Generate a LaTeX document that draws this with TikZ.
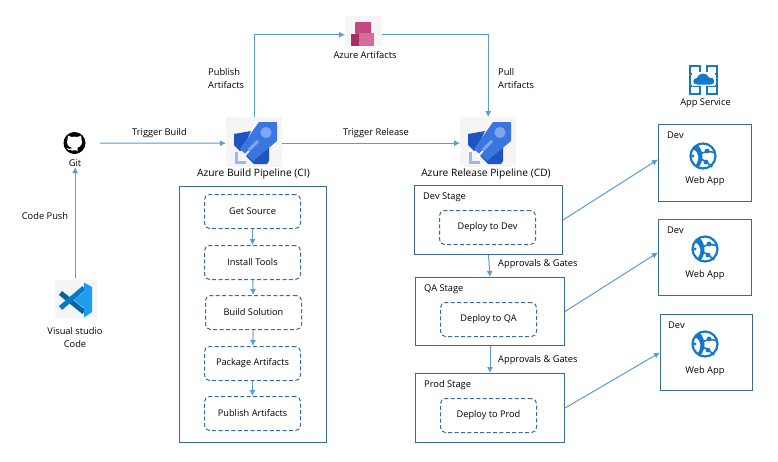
\documentclass[tikz,border=0pt]{standalone}
\usepackage{fontspec}
\setmainfont{Open Sans}
\usetikzlibrary{arrows.meta}
\definecolor{boxblue}{HTML}{3A6A9A}
\definecolor{linkblue}{HTML}{5B9BD5}
\definecolor{iconbg}{HTML}{F5F5F5}
\definecolor{rocketdark}{HTML}{1F55C0}
\definecolor{rocketmid}{HTML}{3B76E0}
\definecolor{rocketlight}{HTML}{7FA6EC}
\definecolor{rocketpale}{HTML}{9DB8EE}
\definecolor{artA}{HTML}{C2487F}
\definecolor{artB}{HTML}{A52F63}
\definecolor{artC}{HTML}{D66C9C}
\definecolor{vsdark}{HTML}{0065A9}
\definecolor{vsmid}{HTML}{007ACC}
\definecolor{vslight}{HTML}{1F9CF0}
\definecolor{appblue}{HTML}{1578C8}
\tikzset{
  lbl/.style={font=\fontsize{9.3}{13}\selectfont,text=black,inner sep=0pt,align=center},
  biglbl/.style={font=\fontsize{10.2}{13}\selectfont,text=black,inner sep=0pt,align=center},
  lblleft/.style={lbl,align=left,anchor=west},
  outerbox/.style={draw=boxblue,line width=1pt,fill=white,inner sep=0pt,anchor=north west},
  stepbox/.style={draw=boxblue,line width=1pt,dash pattern=on 4pt off 2.4pt,rounded corners=5pt,inner sep=0pt,
     minimum width=96pt,minimum height=34pt,font=\fontsize{9.2}{10}\selectfont},
  blank/.style={inner sep=0pt},
  link/.style={draw=linkblue,line width=1pt,-{Latex[length=6pt,width=6pt]}},
  rocket/.pic={
    \fill[iconbg] (0,0) rectangle (56,50);
    \fill[rocketdark] (8,17) -- (25,14) -- (16,33) -- (14,34) -- (8,28) -- cycle;
    \fill[rocketdark] (43,26) -- (43,44) -- (41,47) -- (28,47) -- (20,39) -- cycle;
    \fill[rocketmid] (33,5) -- (50,5) -- (51,6) -- (51,24) -- (27,44) -- (14,32) -- cycle;
    \fill[rocketlight] (40,15.5) circle (5.6);
    \draw[rocketlight,line width=3pt] (32,24) -- (23,33);
    \draw[white,line width=1.6pt] (17,40) -- (23,34);
    \draw[rocketpale,line width=3pt] (10,35) -- (10,45) -- (19.5,45);
  },
  artifact/.pic={
    \fill[iconbg] (0,0) rectangle (37,30);
    \fill[artA,rounded corners=1pt] (10,6) rectangle (26,18);
    \fill[artB] (6,18) rectangle (14,30);
    \fill[artC] (14,17) rectangle (29,30);
  },
  vscode/.pic={
    \fill[iconbg] (0,0) rectangle (42,38);
    \draw[vsdark,line width=5pt] (5.5,13) -- (29,32);
    \draw[vsmid,line width=5pt] (5.5,28) -- (29,8);
    \fill[vslight,even odd rule] (29,2.5) -- (37,7) -- (37,32) -- (29,37.5) -- cycle (29,12) -- (29,28) -- (19,20) -- cycle;
  },
  webapp/.pic={
    \draw[appblue,line width=2.2pt] (0,0) circle (12.5);
    \fill[appblue] (-10,-7) .. controls (-3,-3) and (-3,4) .. (-8,10) -- (-5,12) .. controls (1,5) and (1,-4) .. (-5,-11) -- cycle;
    \draw[appblue,line width=1.6pt] (-3,-2) .. controls (3,-5) and (8,-5) .. (12,-3);
    \draw[appblue,line width=1.6pt] (-2,3) .. controls (3,5) and (7,9) .. (9,11);
    \fill[appblue] (4,-5) circle (2.4) (3,6) circle (2.4) (-10,0) circle (1.6);
  },
  appservice/.pic={
    \draw[appblue,line width=1.6pt] (1,1) -- (11,1) -- (11,9) -- (9,9) -- (9,21) -- (11,21) -- (11,29) -- (1,29) -- cycle;
    \draw[appblue,line width=1.6pt] (28,1) -- (18,1) -- (18,9) -- (20,9) -- (20,21) -- (18,21) -- (18,29) -- (28,29) -- cycle;
    \draw[appblue,line width=1.6pt] (9,9) -- (1,9) (9,21) -- (1,21) (20,9) -- (28,9) (20,21) -- (28,21);
    \fill[white] (3,7) rectangle (26,21);
    \fill[appblue] (8,19.5) .. controls (3,19.5) and (3,13) .. (8,13) .. controls (9,7.5) and (18,7) .. (20,12.5) .. controls (26,11.5) and (27,19.5) .. (22,19.5) -- cycle;
  },
  gitcat/.pic={
    \fill[black] (0,0) circle (11);
    \fill[white] (-6.5,-7.5) -- (-3,-6) .. controls (-1,-6.5) and (1,-6.5) .. (3,-6) -- (6.5,-7.5) -- (7,-3.5) .. controls (8.5,0) and (6.5,4) .. (3,4.5) -- (3,8) .. controls (2,7) and (-2,7) .. (-3,8) -- (-3,7) .. controls (-6,8) and (-7,6) .. (-8,5) .. controls (-6,5.5) and (-5,6.5) .. (-3.2,5.5) -- (-3,4.5) .. controls (-6.5,4) and (-8.5,0) .. (-7,-3.5) -- cycle;
  },
}
\begin{document}
\begin{tikzpicture}[x=1pt,y=-1pt]
\useasboundingbox (0,0) rectangle (778,461);
\fill[white] (0,0) rectangle (778,461);

% icons
\pic at (226,117) {rocket};
\pic at (460,117) {rocket};
\pic at (345,16) {artifact};
\pic at (55,280) {vscode};
\pic at (74.5,143) {gitcat};
\pic at (689,65) {appservice};

% icon anchors
\node[blank,minimum width=56pt,minimum height=52pt,anchor=north west] (build) at (226,117) {};
\node[blank,minimum width=56pt,minimum height=52pt,anchor=north west] (release) at (460,117) {};
\node[blank,minimum width=37pt,minimum height=30pt,anchor=north west] (artifacts) at (345,19.5) {};
\node[blank,minimum width=40pt,minimum height=38pt,anchor=north west] (vs) at (55,278) {};
\node[blank,minimum width=50pt,minimum height=24pt] (git) at (75,143) {};

% labels
\node[lbl] (gitlbl) at (75,163.5) {Git};
\node[lbl] at (75,338) {Visual studio\\Code};
\node[biglbl] (buildlbl) at (253.5,173.5) {Azure Build Pipeline (CI)};
\node[biglbl] (releaselbl) at (486,173.5) {Azure Release Pipeline (CD)};
\node[lbl] at (365,54.5) {Azure Artifacts};
\node[lbl] at (705.5,103.5) {App Service};
\node[lbl] at (45,216.5) {Code Push};
\node[lbl] at (159.5,133.5) {Trigger Build};
\node[lbl] at (376,133.5) {Trigger Release};
\node[lblleft] at (208,79) {Publish\\Artifacts};
\node[lblleft] at (498,79) {Pull\\Artifacts};
\node[lblleft] at (498,264.5) {Approvals \& Gates};
\node[lblleft] at (498,360.5) {Approvals \& Gates};

% build box
\node[outerbox,minimum width=147pt,minimum height=256pt] (ci) at (179,186) {};
\node[stepbox] (s1) at (252.5,211.5) {Get Source};
\node[stepbox] (s2) at (252.5,262.5) {Install Tools};
\node[stepbox] (s3) at (253.5,312.5) {Build Solution};
\node[stepbox] (s4) at (252.5,363.5) {Package Artifacts};
\node[stepbox] (s5) at (252.5,413.5) {Publish Artifacts};

% stages
\node[outerbox,minimum width=148pt,minimum height=69pt] (dev) at (414,185) {};
\node[outerbox,minimum width=149pt,minimum height=68pt] (qa) at (415,277) {};
\node[outerbox,minimum width=149pt,minimum height=69pt] (prod) at (415,373) {};
\node[lblleft] at (423,197.5) {Dev Stage};
\node[lblleft] at (424,289.5) {QA Stage};
\node[lblleft] at (424,385.5) {Prod Stage};
\node[stepbox] (d1) at (487.5,227.5) {Deploy to Dev};
\node[stepbox] (d2) at (488.5,319.5) {Deploy to QA};
\node[stepbox] (d3) at (488.5,415.5) {Deploy to Prod};

% web app boxes
\node[outerbox,minimum width=93pt,minimum height=77pt] (w1) at (658,124) {};
\node[outerbox,minimum width=93pt,minimum height=76pt] (w2) at (658,219) {};
\node[outerbox,minimum width=92pt,minimum height=76pt] (w3) at (660,314) {};
\node[lblleft] at (667,135.5) {Dev};
\node[lblleft] at (667,230.5) {Dev};
\node[lblleft] at (668,325.5) {Dev};
\node[lbl] at (705,181.5) {Web App};
\node[lbl] at (705,275.5) {Web App};
\node[lbl] at (705,371.5) {Web App};
\pic at (703,156) {webapp};
\pic at (705,249) {webapp};
\pic at (705,344) {webapp};

% connectors
\draw[link] (vs.north) -- (gitlbl.south -| vs.north);
\draw[link] (git.east) -- (build.west);
\draw[link] (build.north) |- (artifacts.west);
\draw[link] (artifacts.east) -| (release.north);
\draw[link] (build.east) -- (release.west);
\draw[link] (s1) -- (s2);
\draw[link] (s2) -- (s3);
\draw[link] (s3) -- (s4);
\draw[link] (s4) -- (s5);
\draw[link] (dev.south) -- (qa.north);
\draw[link] (qa.south) -- (prod.north);
\draw[link] (dev.east) -- ([yshift=3.5pt]w1.west);
\draw[link] (qa.east) -- ([yshift=5pt]w2.west);
\draw[link] (prod.east) -- (w3.west);
\end{tikzpicture}
\end{document}
